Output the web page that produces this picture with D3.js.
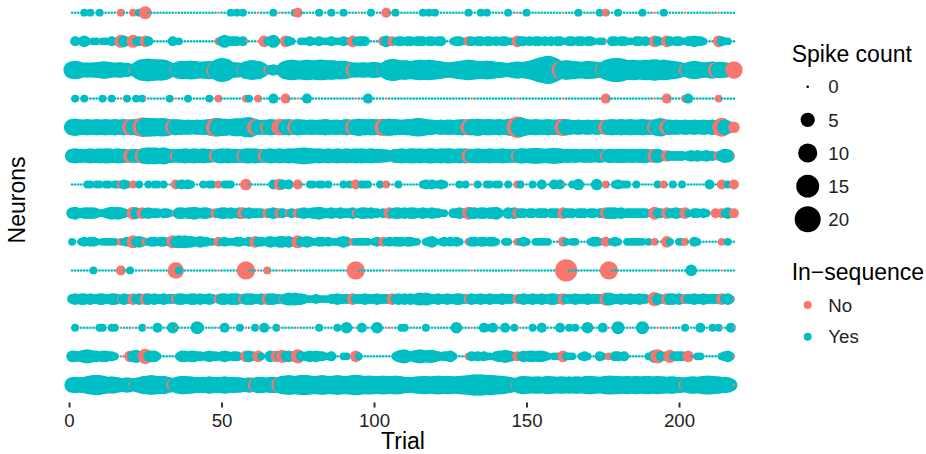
<!DOCTYPE html>
<html>
<head>
<meta charset="utf-8">
<script src="https://cdn.jsdelivr.net/npm/d3@7/dist/d3.min.js"></script>
<style>
body { margin: 0; background: #fff; }
text { font-family: "Liberation Sans", Arial, Helvetica, sans-serif; }
</style>
</head>
<body>
<script>
// spike count of each neuron per trial, one base-36 character per trial (groups of 10 trials)
const spikeCounts = [
  "0000101001 0000001000 1010400000 0000000000 0000000000 0010101000 0000001000 0001200000 0100010001 0000000010 0002001000 0000010101 0000000000 1000101000 0001000001 0000000000 0000001000 0001010001 0000000100 0000100000 0000000000 00000000",
  "0210310110 1102104311 4121320000 0002010000 0000000012 4222212000 0003124100 3210011121 1211121112 1131222000 0023121221 2212221221 2200012211 2212212212 1221103221 2122121212 2012212212 2101100221 2211022121 0321032122 1022322100 00321100",
  "8986565667 8876566554 259defedcd c96448989a 98788979dh fa766548ab a963123214 9bcbaabcba bccbaba9a9 8756566567 6548cedbab a9abcbbcba 98766789ab cba989a987 7655678778 9bdgjkokgb 89ba988789 88766adfhh fcbbcbabcb cdcbcba987 5468987667 86776558",
  "0100100000 1001000010 0101000000 0010000010 0000010010 0000000110 0100002000 2000000200 0000000000 0000000200 0000000000 0000000000 0000000000 0000000000 0000000000 0000000000 0000000000 0000020000 0000000000 0000020000 0120000000 00100000",
  "7876676676 6766766767 678baa9989 9876766565 5656678a98 8778989bc9 7656576677 6766766566 5667656656 7667877677 6787877666 7789987665 5656656676 7778767766 766789db87 6676667666 7876556556 5565566766 7667666766 6689766565 5655655655 655a6423",
  "5655456556 5665565545 4546787877 8655355655 6556554456 5655554665 6554565565 5656678766 5655655655 6556565565 5544315565 5665655665 5656655656 5556555655 5655454665 6676656676 6055454454 5445435545 5545545554 4553232222 2023232232 21235410",
  "0000011011 0110111210 1010010110 1000212121 0001011010 1110000300 0000002032 1200200011 0110100001 0102011100 0101000100 0000012121 1210000101 0001001101 1001001100 0100200021 2000103000 0030010012 1110010000 0010100100 1000000002 00020102",
  "3422333321 1234343211 4323232221 2210133233 4323321223 3232233232 2221223222 1121223223 3432232232 2231233232 2121323323 2332232232 2110022321 4332332334 2003232221 2212221222 1322212221 2212233332 3122222221 0422132232 2310221210 02021302",
  "1001212210 1111101122 4232112212 2124343433 2232211021 2111221121 3221232233 2321422321 1221211123 2011111101 2121212221 2211001231 0121212100 1221221221 0011001121 0011111000 0210110000 1221020121 0011111101 0100031001 1100210000 00010100",
  "0000000100 0000002001 0000000000 0000710000 0000000000 0000000900 0000100000 0000000000 0000000000 0009000000 0000000000 0000000000 0000000000 0000000000 0000000000 0000000000 00e0000000 0000009000 0000000000 0000000000 0003000000 00000000",
  "2323323223 3223321322 3232332322 3222233223 3232232123 3233322333 2232333221 3434332111 2111122322 2232223222 3222232323 2323434322 3223223322 2322322322 2322212232 2322322332 2322232223 2222244322 3223223221 2532133323 2222322322 22232310",
  "0100000001 1001100000 0001000020 0003000000 0410000000 2000010000 1002000100 0000000000 0100000100 3000020000 3000000011 0000001000 0000003000 0000021020 0020010000 0100200000 2001010003 0000200004 0000000400 0000000000 0100002000 10100020",
  "3323454332 3322100003 3422623310 0000013323 3221232212 3212210332 1310032324 2322521232 3221120001 1003100000 0000001345 3234543443 2122310000 1212121102 3343212132 3323321011 0311100121 0002101022 1200000001 1452124122 2130011000 00012310",
  "676678abcb 9878760565 25689aba98 9764689988 7767787677 8767665065 5776077679 aba9abcba9 9aba99aba9 9abcba9aa9 89a989a987 7678899889 a9899889aa bcdcdcbcba a987654898 8788789887 8878788789 988789aa99 8898898899 8898878877 64788789aa 98877640"
];

// trials in which the neuron's spikes were not in sequence ("No")
const notInSequence = [
  [17, 21, 25, 35, 49, 62, 69, 75, 95, 104, 147, 162, 176, 192, 202, 213],
  [17, 21, 25, 49, 58, 62, 64, 71, 93, 103, 106, 131, 147, 162, 176, 192, 196, 213],
  [21, 35, 48, 57, 65, 69, 93, 103, 161, 175, 202, 212, 218],
  [17, 25, 35, 49, 58, 62, 71, 75, 94, 104, 132, 147, 162, 176, 192, 196, 202, 213],
  [20, 24, 34, 48, 61, 65, 69, 70, 74, 93, 103, 131, 147, 162, 176, 192, 196, 214, 218],
  [20, 24, 35, 48, 57, 64, 106, 131, 147, 162, 176, 192, 196, 202, 213, 218],
  [17, 21, 35, 49, 58, 69, 75, 94, 104, 132, 147, 162, 176, 195, 214, 218],
  [21, 24, 35, 48, 57, 65, 69, 72, 75, 94, 105, 131, 147, 162, 176, 192, 196, 202, 212, 214, 218],
  [17, 21, 25, 34, 49, 61, 75, 93, 103, 131, 147, 162, 176, 192, 196, 202, 214],
  [17, 25, 35, 49, 58, 62, 65, 69, 75, 94, 104, 106, 132, 147, 163, 177, 193, 197, 214],
  [17, 21, 25, 35, 49, 57, 65, 70, 93, 106, 131, 147, 162, 176, 192, 196, 202, 214, 218],
  [17, 21, 25, 35, 49, 58, 62, 69, 75, 94, 104, 106, 132, 148, 177, 193, 197, 214, 218],
  [17, 20, 25, 35, 58, 62, 68, 70, 75, 94, 106, 131, 147, 162, 177, 193, 197, 203, 218],
  [17, 21, 34, 58, 61, 65, 69, 147, 202, 218]
];

const xTicks = [0, 50, 100, 150, 200];
const sizeBreaks = [0, 5, 10, 15, 20];
const seqLevels = ["No", "Yes"];
const seqColors = ["#F8766D", "#00BFC4"];

const width = 926, height = 454;
const panel = {left: 39, right: 767, bottom: 402.5};

// flatten into one row per point
let points = [];
spikeCounts.forEach(function (s, i) {
    let chars = s.replace(/ /g, "").split("");
    chars.forEach(function (c, j) {
        let trial = j + 1;
        points.push({
            neuron: i + 1,
            trial: trial,
            count: parseInt(c, 36),
            seq: notInSequence[i].indexOf(trial) >= 0 ? "No" : "Yes"
        });
    });
});
const nTrials = d3.max(points, d => d.trial);

const x = d3.scaleLinear()
    .domain([1 - 0.05 * (nTrials - 1), nTrials + 0.05 * (nTrials - 1)])
    .range([panel.left, panel.right]);

const y = d3.scalePoint()
    .domain(d3.range(1, spikeCounts.length + 1))
    .range([12.7, 385]);

const size = d3.scaleSqrt()
    .domain([0, 20])
    .range([1.3, 13]);

const color = d3.scaleOrdinal()
    .domain(seqLevels)
    .range(seqColors);

const svg = d3.select("body").append("svg")
    .attr("width", width)
    .attr("height", height);

// points, drawn in trial order within each neuron
svg.append("g")
    .selectAll("circle")
    .data(points)
    .enter().append("circle")
    .attr("cx", d => x(d.trial))
    .attr("cy", d => y(d.neuron))
    .attr("r", d => size(d.count))
    .attr("fill", d => color(d.seq));

// x axis, ticks only
const xAxis = svg.append("g")
    .attr("transform", "translate(0," + panel.bottom + ")")
    .call(d3.axisBottom(x).tickValues(xTicks).tickSize(5).tickPadding(6).tickFormat(d3.format("d")));
xAxis.select(".domain").remove();
xAxis.selectAll("line").attr("stroke", "#333333").attr("stroke-width", 2);
xAxis.selectAll("text")
    .attr("fill", "#222222")
    .style("font-size", "18.7px")
    .style("font-family", "'Liberation Sans', Arial, sans-serif");

svg.append("text")
    .attr("x", (panel.left + panel.right) / 2)
    .attr("y", 449)
    .attr("text-anchor", "middle")
    .style("font-size", "23px")
    .text("Trial");

svg.append("text")
    .attr("transform", "translate(25,200) rotate(-90)")
    .attr("text-anchor", "middle")
    .style("font-size", "23px")
    .text("Neurons");

// legend: spike count
const legX = 791.7, keyX = 807.7, labX = 828.3;
svg.append("text")
    .attr("x", legX)
    .attr("y", 61.5)
    .style("font-size", "23px")
    .text("Spike count");

const sizeLeg = svg.append("g")
    .selectAll("g")
    .data(sizeBreaks)
    .enter().append("g")
    .attr("transform", function (d, i) {
        return "translate(0," + (86.7 + i * 33.15) + ")";
    });
sizeLeg.append("circle")
    .attr("cx", keyX)
    .attr("r", d => size(d))
    .attr("fill", "black");
sizeLeg.append("text")
    .attr("x", labX)
    .attr("dy", "0.36em")
    .attr("fill", "#222222")
    .style("font-size", "18.7px")
    .text(d => d);

// legend: in-sequence
svg.append("text")
    .attr("x", legX)
    .attr("y", 279.8)
    .style("font-size", "23px")
    .text("In\u2212sequence");

const seqLeg = svg.append("g")
    .selectAll("g")
    .data(seqLevels)
    .enter().append("g")
    .attr("transform", function (d, i) {
        return "translate(0," + (305 + i * 31.7) + ")";
    });
seqLeg.append("circle")
    .attr("cx", keyX)
    .attr("r", 4)
    .attr("fill", d => color(d));
seqLeg.append("text")
    .attr("x", labX)
    .attr("dy", "0.36em")
    .attr("fill", "#222222")
    .style("font-size", "18.7px")
    .text(d => d);
</script>
</body>
</html>
